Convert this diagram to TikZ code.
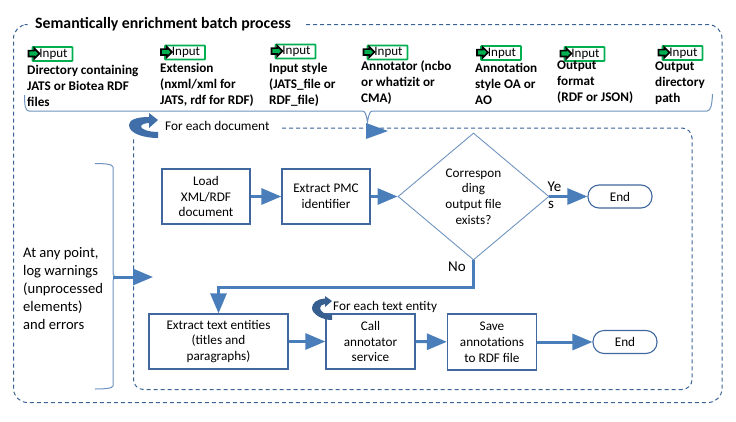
\documentclass[tikz,border=0pt]{standalone}
\usepackage{fontspec}
\setmainfont{Carlito}
\usetikzlibrary{arrows.meta,shapes.geometric,shapes.arrows}
\definecolor{linkblue}{HTML}{4A7EBB}
\definecolor{boxblue}{HTML}{41689E}
\definecolor{dashblue}{HTML}{3A6496}
\definecolor{thinblue}{HTML}{6F93BF}
\definecolor{inputgreen}{HTML}{00B050}
\definecolor{loopfill}{HTML}{3F6EA8}
\newcommand{\bodyfont}{\fontsize{13.2}{15.8}\selectfont}
\newcommand{\paramfont}{\fontsize{13.2}{16}\selectfont\bfseries}
\tikzset{
  procbox/.style={draw=boxblue,line width=1.3pt,minimum width=#1,minimum height=55pt,inner sep=0pt,align=center,font=\bodyfont},
  endbox/.style={draw=boxblue,line width=1.1pt,rounded corners=11pt,minimum width=64pt,minimum height=23pt,inner sep=0pt,font=\bodyfont},
  decision/.style={draw=thinblue,line width=.9pt,diamond,minimum width=151pt,minimum height=127pt,inner sep=0pt,align=center,font=\bodyfont},
  flow/.style={draw=linkblue,line width=3pt,-{Triangle[length=20pt,width=16pt,fill=linkblue]}},
  framedash/.style={draw=dashblue,line width=1pt,dash pattern=on 4pt off 3pt},
  bracket/.style={draw=thinblue,line width=1pt},
  inputbox/.style={draw=inputgreen,line width=1.8pt,rounded corners=.6pt,minimum width=40pt,minimum height=14pt,inner sep=0pt,font=\fontsize{13}{14}\selectfont},
  inputarrow/.style={single arrow,draw=black,fill=inputgreen,line width=1.7pt,minimum height=11pt,minimum width=10.5pt,single arrow head extend=1.5pt,inner sep=1pt},
  param/.style={anchor=west,align=left,inner sep=0pt,font=\paramfont},
  plain/.style={inner sep=0pt,font=\bodyfont},
}
\begin{document}
\begin{tikzpicture}[x=1pt,y=-1pt]
\useasboundingbox (0,0) rectangle (736,421);
% outer and inner frames
\draw[framedash,rounded corners=14pt] (306,24.5) -| (722,402.5) -| (13.5,24.5) -- (24,24.5);
\draw[framedash,rounded corners=10pt] (282,128) -| (692,389.5) -| (133.5,138);
% title
\node[anchor=west,inner sep=0pt,font=\fontsize{15.8}{18}\selectfont\bfseries] (title) at (35,24.5) {Semantically enrichment batch process};
% input icons
\foreach \n/\x/\y in {a/52.5/54,b/185/52.5,c/295.5/51.5,d/387.5/52.5,e/501/53,f/584.5/54,g/682.5/53}{
  \node[inputbox] (in\n) at (\x,\y) {\hspace*{2pt}Input};
  \node[inputarrow] (ar\n) at (\x-20,\y-.5) {};
}
% parameters
\node[param] (pa) at (27,86) {Directory containing\\JATS or Biotea RDF\\files};
\node[param] (pb) at (160,85) {Extension\\(nxml/xml for\\JATS, rdf for RDF)};
\node[param] (pc) at (269,85) {Input style\\(JATS\_file or\\RDF\_file)};
\node[param] (pd) at (361,83) {Annotator (ncbo\\or whatizit or\\CMA)};
\node[param] (pe) at (475,84) {Annotation\\style OA or\\AO};
\node[param] (pf) at (557,82) {Output\\format\\(RDF or JSON)};
\node[param] (pg) at (655,83) {Output\\directory\\path};
% inputs bracket
\draw[bracket] (24.5,95) .. controls (24.5,104) and (25,111) .. (29,111) -- (362,111)
  .. controls (365,111) and (366,113) .. (367.5,122) .. controls (369,113) and (370,111) .. (373,111)
  -- (707,111) .. controls (711,111) and (712,104) .. (712.5,94);
\coordinate (brTip) at (367,131);
\fill[linkblue] (366,123) -- (388,131) -- (366,139) -- cycle;
% for-each loop
\fill[loopfill] (158,120) -- (149,113) -- (149,117) .. controls (136,117) and (129,120) .. (129,125)
  .. controls (129,134) and (145,138) .. (158,138) -- (158,132)
  .. controls (148,132) and (141,129) .. (141,126.5) .. controls (141,124.5) and (145,123) .. (149,123) -- (149,128) -- cycle;
\node[plain,anchor=west] (foreachdoc) at (165,126) {\fontsize{13.3}{14}\selectfont For each document};
% flow nodes
\node[procbox=88pt] (load) at (206,196.5) {Load\\XML/RDF\\document};
\node[procbox=88pt] (pmc) at (326,196.5) {Extract PMC\\identifier};
\node[decision] (dec) at (473.5,196.5) {Correspon\\ding\\output file\\exists?};
\node[endbox] (end1) at (620,196.5) {End};
\node[procbox=139pt] (ext) at (218.5,341.5) {Extract text entities\\(titles and\\paragraphs)};
\node[procbox=89pt] (call) at (370.5,341.5) {Call\\annotator\\service};
\node[procbox=89pt,minimum height=56pt] (save) at (492,342) {Save\\annotations\\to RDF file};
\node[endbox] (end2) at (625,342) {End};
% connectors
\draw[flow] (load) -- (pmc);
\draw[flow] (pmc) -- (dec);
\draw[flow] (dec.east) -- (end1);
\draw[flow] (dec.south) -- ++(0,27) -| (ext.north);
\draw[flow] (ext) -- (call);
\draw[flow] (call) -- (save);
\draw[flow] (save) -- (end2);
\node[plain,anchor=west,font=\fontsize{15}{17}\selectfont] (yes1) at (547.5,186.5) {Ye};
\node[plain,anchor=west,font=\fontsize{15}{17}\selectfont] (yes2) at (548,205) {s};
\node[plain,anchor=west,font=\fontsize{15}{17}\selectfont] (no) at (448,267) {No};
% per-entity loop
\fill[loopfill!85!black] (332,301) -- (325,296) -- (325,298.5) .. controls (317,299) and (312,303) .. (312,308)
  .. controls (312,314) and (322,320) .. (332,320) -- (332,315)
  .. controls (325,315) and (320,311) .. (320,308) .. controls (320,306) and (322,304) .. (325,304) -- (325,307) -- cycle;
\node[plain,anchor=west] (foreachtext) at (333,307) {\fontsize{13.2}{14}\selectfont For each text entity};
% logging
\coordinate (logBrace) at (113,277);
\coordinate (logTip) at (153,277);
\draw[bracket] (95,163.5) .. controls (103,163.5) and (113,164) .. (113,167) -- (113,273)
  .. controls (113,276) and (115,277) .. (117,277) .. controls (115,277) and (113,278) .. (113,281)
  -- (113,386) .. controls (113,388.5) and (103,389) .. (95,389);
\draw[flow] (logBrace) -- (logTip);
\node[anchor=west,align=left,inner sep=0pt,font=\fontsize{14.6}{18.2}\selectfont] (lognote) at (23,288.5) {At any point,\\log warnings\\(unprocessed\\elements)\\and errors};
\end{tikzpicture}
\end{document}
